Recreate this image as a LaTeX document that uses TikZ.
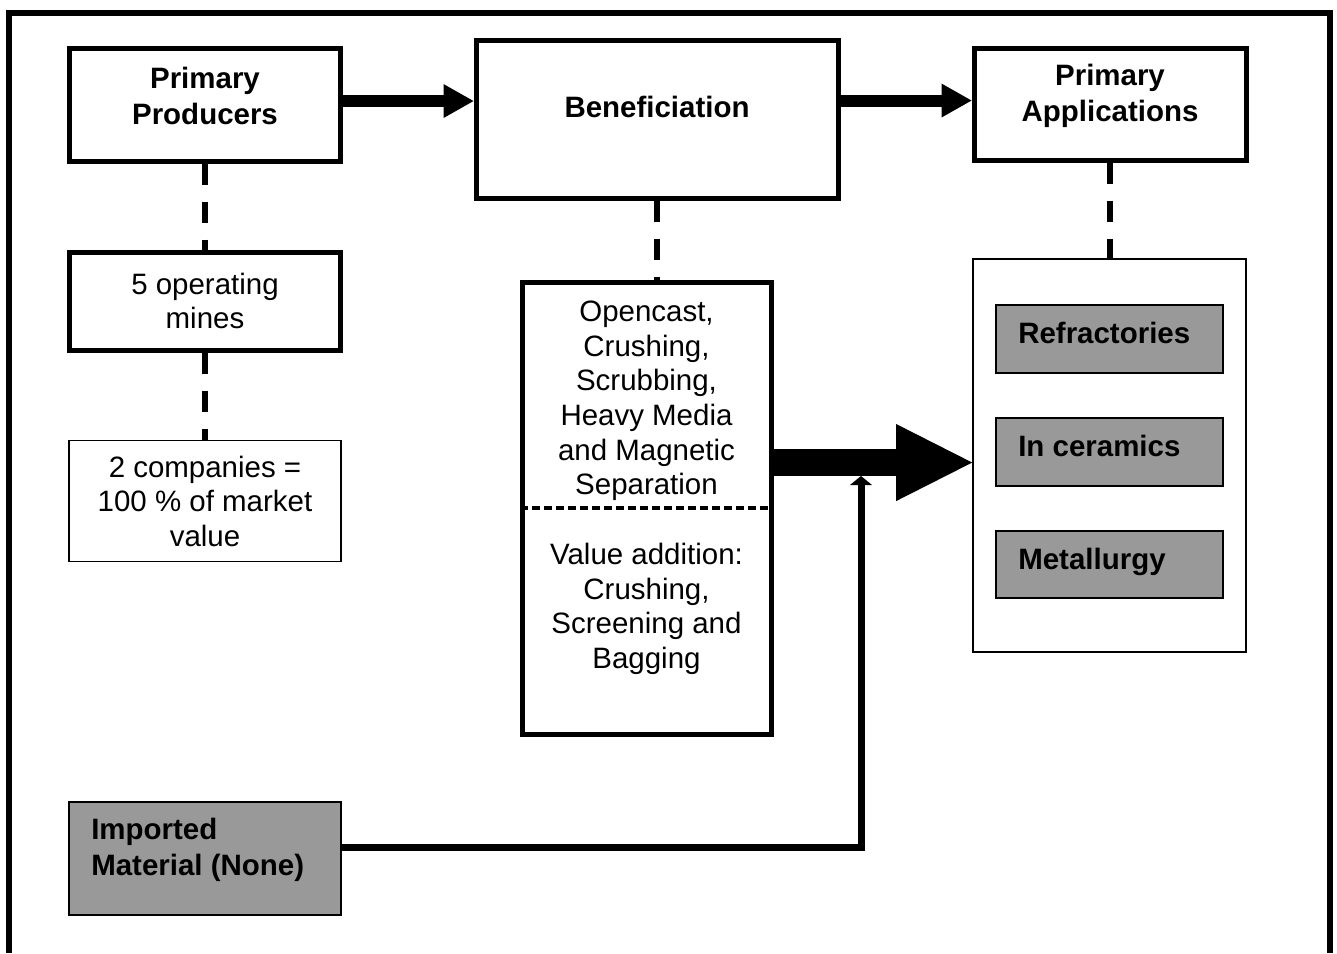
\documentclass[tikz,border=0pt]{standalone}
\usepackage{fontspec}
\setmainfont{Liberation Sans}
\usetikzlibrary{arrows.meta,calc}
\definecolor{boxgrey}{HTML}{999999}
\begin{document}
\begin{tikzpicture}[x=0.75pt,y=-0.75pt,
  txt/.style={font=\fontsize{22.1pt}{25.9pt}\selectfont, align=center, inner sep=0pt},
  btxt/.style={font=\fontsize{22.1pt}{26.5pt}\selectfont\bfseries, align=center, inner sep=0pt},
  sz/.style 2 args={minimum width=#1*0.75pt, minimum height=#2*0.75pt},
  tbox/.style={draw=black, line width=3.75pt, inner sep=0pt, fill=white},
  nbox/.style={draw=black, line width=1.2pt, inner sep=0pt, fill=white},
  gbox/.style={draw=black, line width=1.1pt, inner sep=0pt, fill=boxgrey},
  dashline/.style={line width=4.5pt, dash pattern=on 15.75pt off 12.75pt},
  dotline/.style={line width=3pt, dash pattern=on 6pt off 3pt},
  flowarr/.style={line width=9pt, -{Triangle[length=22.5pt,width=25.5pt,line width=0pt]}},
  bigarr/.style={line width=20.25pt, -{Triangle[length=57pt,width=57.75pt,line width=0pt]}},
  imparr/.style={line width=5.25pt, -{Triangle[length=6.75pt,width=16.5pt,line width=0pt]}},
  frame/.style={line width=4.5pt}
]
\useasboundingbox (0,0) rectangle (1337,953);

% outer frame (open at the bottom)
\draw[frame] (9,953) -- (9,12.5) -- (1330,12.5) -- (1330,953);

% top row
\node[tbox, sz={271}{113}] (pp) at (205,104.5) {};
\node[btxt] (pp-t) at (205,96) {Primary\\Producers};
\node[tbox, sz={362}{158}] (ben) at (657,119) {};
\node[btxt, anchor=base] (ben-t) at (657,117) {Beneficiation};
\node[tbox, sz={272}{112}] (pa) at (1110,104) {};
\node[btxt] (pa-t) at (1110,96) {Primary\\Applications};

% left column
\node[tbox, sz={271}{98}, txt] (mines) at (205,301) {5 operating\\mines};
\node[nbox, sz={272}{121}, txt] (comp) at (205,501) {2 companies =\\100 \% of market\\value};

% process box
\node[tbox, sz={249}{452}] (proc) at (646.5,508) {};
\node[txt] (proc-up) at (646.5,401) {Opencast,\\Crushing,\\Scrubbing,\\Heavy Media\\and Magnetic\\Separation};
\node[txt] (proc-lo) at (646.5,609) {Value addition:\\Crushing,\\Screening and\\Bagging};
\draw[dotline] (proc.west) -- (proc.east);

% applications
\node[nbox, sz={273}{393}] (app) at (1109.5,455.5) {};
\node[gbox, sz={227}{68}] (ref) at (1109.5,339) {};
\node[btxt, anchor=base west] (ref-t) at (1018,343) {Refractories};
\node[gbox, sz={227}{68}] (cer) at (1109.5,452) {};
\node[btxt, anchor=base west] (cer-t) at (1018,456) {In ceramics};
\node[gbox, sz={227}{67}] (met) at (1109.5,564.5) {};
\node[btxt, anchor=base west] (met-t) at (1018,569) {Metallurgy};

% imported material
\node[gbox, sz={272}{113}] (imp) at (205,858.5) {};
\node[btxt, align=left, anchor=west] (imp-t) at (91,850) {Imported\\Material (None)};

% dashed links
\draw[dashline] (pp.south) -- (mines.north);
\draw[dashline] (mines.south) -- (comp.north);
\draw[dashline] (ben.south) -- (ben.south |- proc.north);
\draw[dashline] (pa.south) -- (pa.south |- app.north);

% flow arrows
\draw[flowarr] ([yshift=2.6pt]pp.east) -- ([yshift=2.6pt]pp.east -| ben.west);
\draw[flowarr] ([yshift=2.6pt]ben.east |- pa.west) -- ([yshift=2.6pt]pa.west);
\draw[bigarr] ([yshift=34.1pt]proc.east) -- ([yshift=34.1pt]proc.east -| app.west);
\coordinate (j) at (861,476);
\draw[imparr] ([yshift=8.6pt]imp.east) -| (j);
\end{tikzpicture}
\end{document}
